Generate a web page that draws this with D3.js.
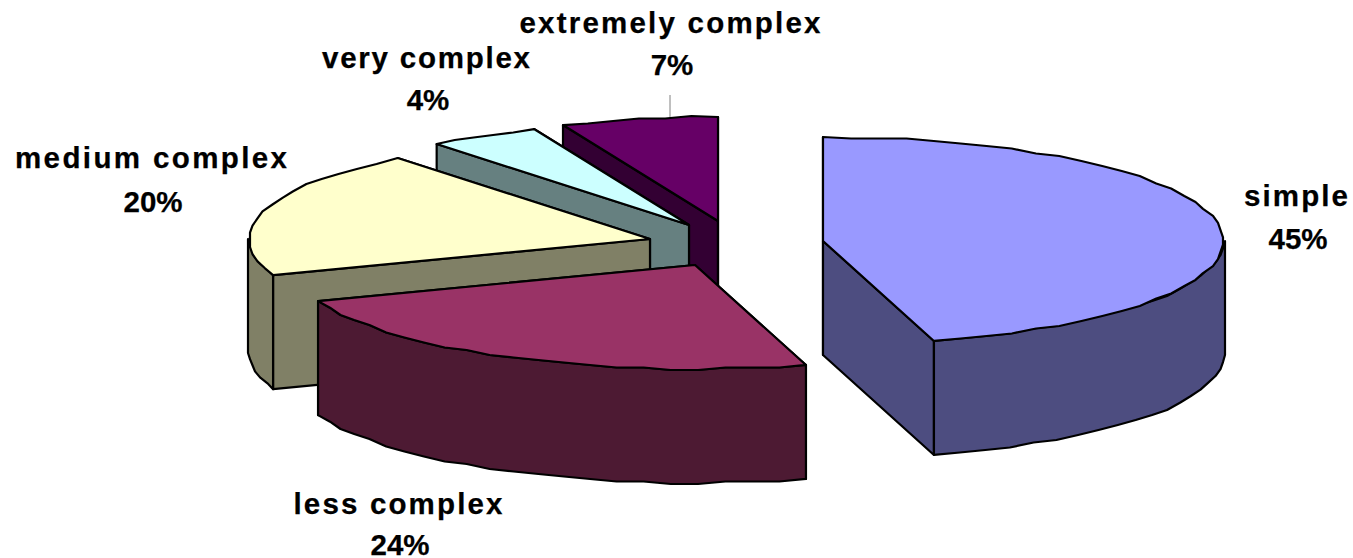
<!DOCTYPE html>
<html><head><meta charset="utf-8">
<script src="https://cdn.jsdelivr.net/npm/d3@7"></script>
<style>html,body{margin:0;padding:0;background:#fff}svg{display:block}
text{font-family:"Liberation Sans",Arial,sans-serif;font-weight:bold;font-size:29.5px;fill:#000;stroke:#000;stroke-width:0.25}</style>
</head><body><svg id="c" width="1353" height="558"></svg>
<script>
// Data
const categories = ["simple","less complex","medium complex","very complex","extremely complex"];
const shares = [45.55,23.8,19.85,4.5,6.3];
const percentLabels = ["45%","24%","20%","4%","7%"];
const topColors = ["#9999FF","#993366","#FFFFCC","#CCFFFF","#660066"];
const wallColors = ["#4D4D80","#4D1A33","#808066","#668080","#330033"];

// Layout (exploded slice apexes, label anchors)
const apexX = [823,695,650,689,718];
const apexY = [241,265,239,225,221];
const labelX = [1296,398,151,426,670];
const nameY = [206,514,168,68,33];
const pctY = [249,555,212,110,75];
const nameW = [104,209,272,208,301];
const RX = 402, RY = 104, DEPTH = 114;

const svg = d3.select("#c");
const arcs = d3.pie().sort(null).value(d=>d).startAngle(0).endAngle(2*Math.PI)(shares);
const sx = d3.scaleLinear().domain([-1,1]).range([-RX,RX]);
const sy = d3.scaleLinear().domain([-1,1]).range([RY,-RY]);
const line = d3.line();

// rim polyline between two angles, lightly stepped like the low-res original
function rim(i,a0,a1,dy){
  const n = Math.max(2,Math.ceil((a1-a0)/(Math.PI/45)));
  return d3.range(n+1).map(k=>{
    const t=a0+(a1-a0)*k/n;
    let x=sx(Math.sin(t)), y=sy(Math.cos(t));
    if(k>0&&k<n){
      if(Math.abs(Math.sin(t))>0.9) x=Math.trunc(x/2.5)*2.5;
      else y=Math.round(y/2.5)*2.5;
    }
    return [apexX[i]+x, apexY[i]+y+dy];
  });
}
function draw(i){
  const a0=arcs[i].startAngle,a1=arcs[i].endAngle;
  const g=svg.append("g").attr("stroke","#000").attr("stroke-width",2.2).attr("stroke-linejoin","round");
  const P=[apexX[i],apexY[i]];
  const edge=(a)=>[P[0]+sx(Math.sin(a)),P[1]+sy(Math.cos(a))];
  const face=(a)=>{const e=edge(a);return line([P,e,[e[0],e[1]+DEPTH],[P[0],P[1]+DEPTH]])+"Z";};
  const backStart=Math.sin(a0)>=0, backEnd=Math.sin(a1)<=0;
  const order=[];
  if(backStart)order.push(a0); if(backEnd)order.push(a1);
  if(!backStart)order.push(a0); if(!backEnd)order.push(a1);
  order.forEach(a=>g.append("path").attr("d",face(a)).attr("fill",wallColors[i]));
  // outer wall: visible between 90deg and 270deg
  const w0=Math.max(a0,Math.PI/2), w1=Math.min(a1,3*Math.PI/2);
  if(w1>w0){
    const top=rim(i,w0,w1,0), bot=rim(i,w0,w1,DEPTH).reverse();
    g.append("path").attr("d",line(top.concat(bot))+"Z").attr("fill",wallColors[i]);
  }
  g.append("path").attr("d",line([P].concat(rim(i,a0,a1,0)))+"Z").attr("fill",topColors[i]);
}
[4,3,2,1,0].forEach(draw);

// leader line for the top label
svg.append("line").attr("x1",labelX[4]).attr("x2",labelX[4]).attr("y1",95).attr("y2",117)
  .attr("stroke","#808080").attr("stroke-width",1);

categories.forEach((c,i)=>{
  svg.append("text").attr("x",labelX[i]).attr("y",nameY[i]).attr("text-anchor","middle")
    .attr("textLength",nameW[i]).attr("lengthAdjust","spacing").text(c);
  svg.append("text").attr("x",labelX[i]+2).attr("y",pctY[i]).attr("text-anchor","middle")
    .text(percentLabels[i]);
});
</script></body></html>
